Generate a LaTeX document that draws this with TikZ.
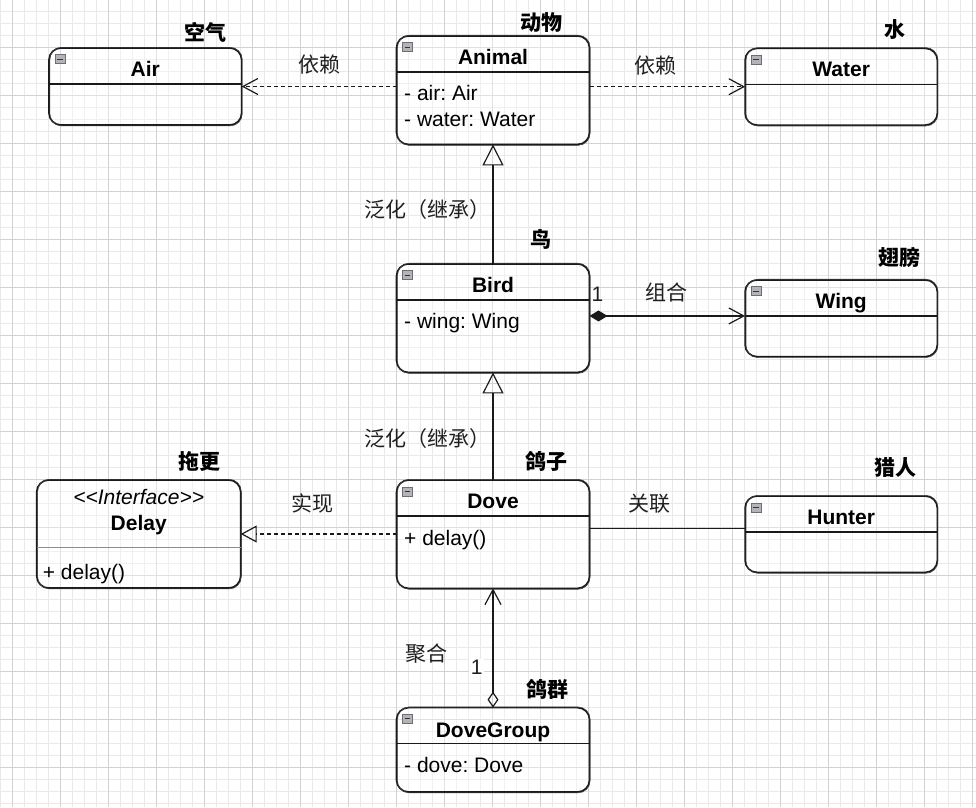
\documentclass[tikz,border=0pt]{standalone}
\usepackage{fontspec}
\setmainfont{Liberation Sans}
\newfontfamily\cjk{Noto Sans CJK SC}
\usetikzlibrary{arrows.meta}
\frenchspacing
\definecolor{linec}{HTML}{1A1A1A}
\definecolor{gridminor}{HTML}{E9E9E9}
\definecolor{gridmajor}{HTML}{D2D2D2}
\definecolor{iconfill}{HTML}{B4B4B8}
\definecolor{icondraw}{HTML}{6E6E72}
\definecolor{labelc}{HTML}{202020}
\newcommand\latinfs{\fontsize{21}{25}\selectfont}
\newcommand\cjkfs{\cjk\fontsize{21}{25}\selectfont}
\newcommand\clsicon[1]{%
  \draw[fill=iconfill, draw=icondraw, line width=0.5pt]
    ([xshift=5.8pt,yshift=-6.7pt]#1.north west) rectangle ++(10pt,-9pt);
  \draw[black!80, line width=0.9pt]
    ([xshift=8pt,yshift=-11.2pt]#1.north west) -- ++(5.6pt,0pt);}
\newcommand\clssep[2]{%
  \draw[sepline] ([yshift=-#2]#1.north west) -- ([yshift=-#2]#1.north east);}
\newcommand\sketchline[1]{%
  \draw[linec!85, line width=0.6pt, rounded corners=12pt]
    ([xshift=0.9pt,yshift=0.7pt]#1.north west) rectangle ([xshift=0.5pt,yshift=-0.9pt]#1.south east);}
\tikzset{
  cls/.style={draw=linec, line width=1.6pt, rounded corners=12pt, inner sep=0pt,
    outer sep=0pt, fill=white, fill opacity=0.35},
  sepline/.style={draw=linec, line width=1.5pt},
  cname/.style={font=\latinfs\bfseries, anchor=base, inner sep=0pt, text=black},
  member/.style={font=\latinfs, anchor=base west, inner sep=0pt, text=black},
  title/.style={font=\cjkfs\bfseries, anchor=base, inner sep=0pt, text=black},
  elabel/.style={font=\cjkfs, anchor=base, inner sep=0pt, text=labelc},
  mult/.style={font=\latinfs, anchor=base, inner sep=1.5pt, text=labelc},
  conn/.style={draw=linec, line width=1.2pt},
  dep/.style={conn, dash pattern=on 4pt off 3pt},
  barb/.tip={Straight Barb[length=15pt,width=16pt]},
  gentri/.tip={Triangle[open,length=21pt,width=21pt]},
  realtri/.tip={Triangle[open,length=16pt,width=17pt]},
  compd/.tip={Diamond[length=18pt,width=11pt]},
  aggd/.tip={Diamond[open,length=16pt,width=11pt]},
}
\begin{document}
\begin{tikzpicture}[x=1pt,y=-1pt]
\useasboundingbox (0,0) rectangle (976,807);
\fill[white] (0,0) rectangle (976,807);
% grid
\foreach \i in {0,...,81} \draw[gridminor, line width=0.8pt] ({0.7+12*\i},0) -- ++(0,807);
\foreach \i in {0,...,67} \draw[gridminor, line width=0.8pt] (0,{-1+12*\i}) -- ++(976,0);
\foreach \i in {0,...,20} \draw[gridmajor, line width=0.8pt] ({12.7+48*\i},0) -- ++(0,807);
\foreach \i in {0,...,16} \draw[gridmajor, line width=0.8pt] (0,{-1+48*\i}) -- ++(976,0);

% class boxes
\node[cls, minimum width=192.7pt, minimum height=77pt] (air) at (145.3,86.5) {};
\node[cls, minimum width=193pt, minimum height=108.5pt] (animal) at (493,90.2) {};
\node[cls, minimum width=192.3pt, minimum height=76.7pt] (water) at (841.2,86.7) {};
\node[cls, minimum width=193pt, minimum height=108.5pt] (bird) at (493,318.2) {};
\node[cls, minimum width=192.3pt, minimum height=76.7pt] (wing) at (841.2,318.3) {};
\node[cls, minimum width=204pt, minimum height=108pt] (delay) at (138.7,534) {};
\node[cls, minimum width=193pt, minimum height=108.3pt] (dove) at (493,534.2) {};
\node[cls, minimum width=192.3pt, minimum height=76.3pt] (hunter) at (841.2,534.2) {};
\node[cls, minimum width=193pt, minimum height=84.3pt] (dovegroup) at (493,749.8) {};

% hand-drawn second strokes
\sketchline{air}
\sketchline{animal}
\sketchline{water}
\sketchline{bird}
\sketchline{wing}
\sketchline{delay}
\sketchline{dove}
\sketchline{hunter}
\sketchline{dovegroup}

% separators
\clssep{air}{36pt}
\clssep{animal}{36pt}
\clssep{water}{36pt}
\clssep{bird}{36pt}
\clssep{wing}{36pt}
\clssep{dove}{36pt}
\clssep{hunter}{36pt}
\clssep{dovegroup}{36pt}
\draw[black!45, line width=0.8pt] ([yshift=-67pt]delay.north west) -- ([yshift=-67pt]delay.north east);

% icons
\clsicon{air}
\clsicon{animal}
\clsicon{water}
\clsicon{bird}
\clsicon{wing}
\clsicon{dove}
\clsicon{hunter}
\clsicon{dovegroup}

% class names
\node[cname] (airname) at ([yshift=-28.5pt]air.north) {Air};
\node[cname] (animalname) at ([yshift=-29pt]animal.north) {Animal};
\node[cname] (watername) at ([yshift=-28.5pt]water.north) {Water};
\node[cname] (birdname) at ([yshift=-28.5pt]bird.north) {Bird};
\node[cname] (wingname) at ([yshift=-28.5pt]wing.north) {Wing};
\node[cname] (dovename) at ([yshift=-28.5pt]dove.north) {Dove};
\node[cname] (huntername) at ([yshift=-28.5pt]hunter.north) {Hunter};
\node[cname] (dovegroupname) at ([yshift=-29.5pt]dovegroup.north) {DoveGroup};
\node[font=\latinfs\itshape, anchor=base, inner sep=0pt] (delaystereo) at ([yshift=-24.5pt]delay.north) {<{}<Interface>{}>};
\node[cname] (delayname) at ([yshift=-50.5pt]delay.north) {Delay};

% members
\node[member] (animalm1) at ([xshift=7.5pt,yshift=-65pt]animal.north west) {- air: Air};
\node[member] (animalm2) at ([xshift=7.5pt,yshift=-91pt]animal.north west) {- water: Water};
\node[member] (birdm1) at ([xshift=7.5pt,yshift=-65pt]bird.north west) {- wing: Wing};
\node[member] (dovem1) at ([xshift=7.5pt,yshift=-65pt]dove.north west) {+ delay()};
\node[member] (dovegroupm1) at ([xshift=7.5pt,yshift=-65.3pt]dovegroup.north west) {- dove: Dove};
\node[member] (delaym1) at ([xshift=6pt,yshift=-99pt]delay.north west) {+ delay()};

% titles
\node[title] (t-air) at (205,40.5) {空气};
\node[title] (t-animal) at (541,30.8) {动物};
\node[title] (t-water) at (895,37.5) {水};
\node[title] (t-bird) at (541,247.5) {鸟};
\node[title] (t-wing) at (899,265.2) {翅膀};
\node[title] (t-delay) at (199,469.5) {拖更};
\node[title] (t-dove) at (546.7,469.2) {鸽子};
\node[title] (t-hunter) at (895,475.8) {猎人};
\node[title] (t-dovegroup) at (547,697.5) {鸽群};

% connectors
\draw[dep, -barb] (animal.west |- air.east) -- (air.east);
\draw[dep, -barb] (animal.east |- water.west) -- (water.west);
\draw[conn, -gentri] (bird.north) -- (animal.south);
\coordinate (wingin) at ([yshift=-36pt]wing.north west);
\draw[conn, compd-barb] (bird.east |- wingin) -- (wingin);
\draw[conn, -gentri] (dove.north) -- (bird.south);
\draw[dep, -realtri] (dove.west |- delay.east) -- (delay.east);
\coordinate (hunterin) at ([yshift=6pt]hunter.west);
\draw[conn] (dove.east |- hunterin) -- (hunterin);
\draw[conn, aggd-barb] (dovegroup.north) -- (dove.south);

% edge labels
\node[elabel] (l-dep1) at (319,72.5) {依赖};
\node[elabel] (l-dep2) at (655,73.5) {依赖};
\node[elabel] (l-gen1) at (427,217.5) {泛化（继承）};
\node[elabel] (l-comp) at (666.7,300.8) {组合};
\node[mult] (l-m1) at (597.5,301.8) {1};
\node[elabel] (l-gen2) at (427,446.5) {泛化（继承）};
\node[elabel] (l-real) at (312.5,511) {实现};
\node[elabel] (l-assoc) at (649,511.8) {关联};
\node[elabel] (l-agg) at (426.7,661.5) {聚合};
\node[mult, fill=white] (l-m2) at (476.7,674.5) {1};
\end{tikzpicture}
\end{document}
